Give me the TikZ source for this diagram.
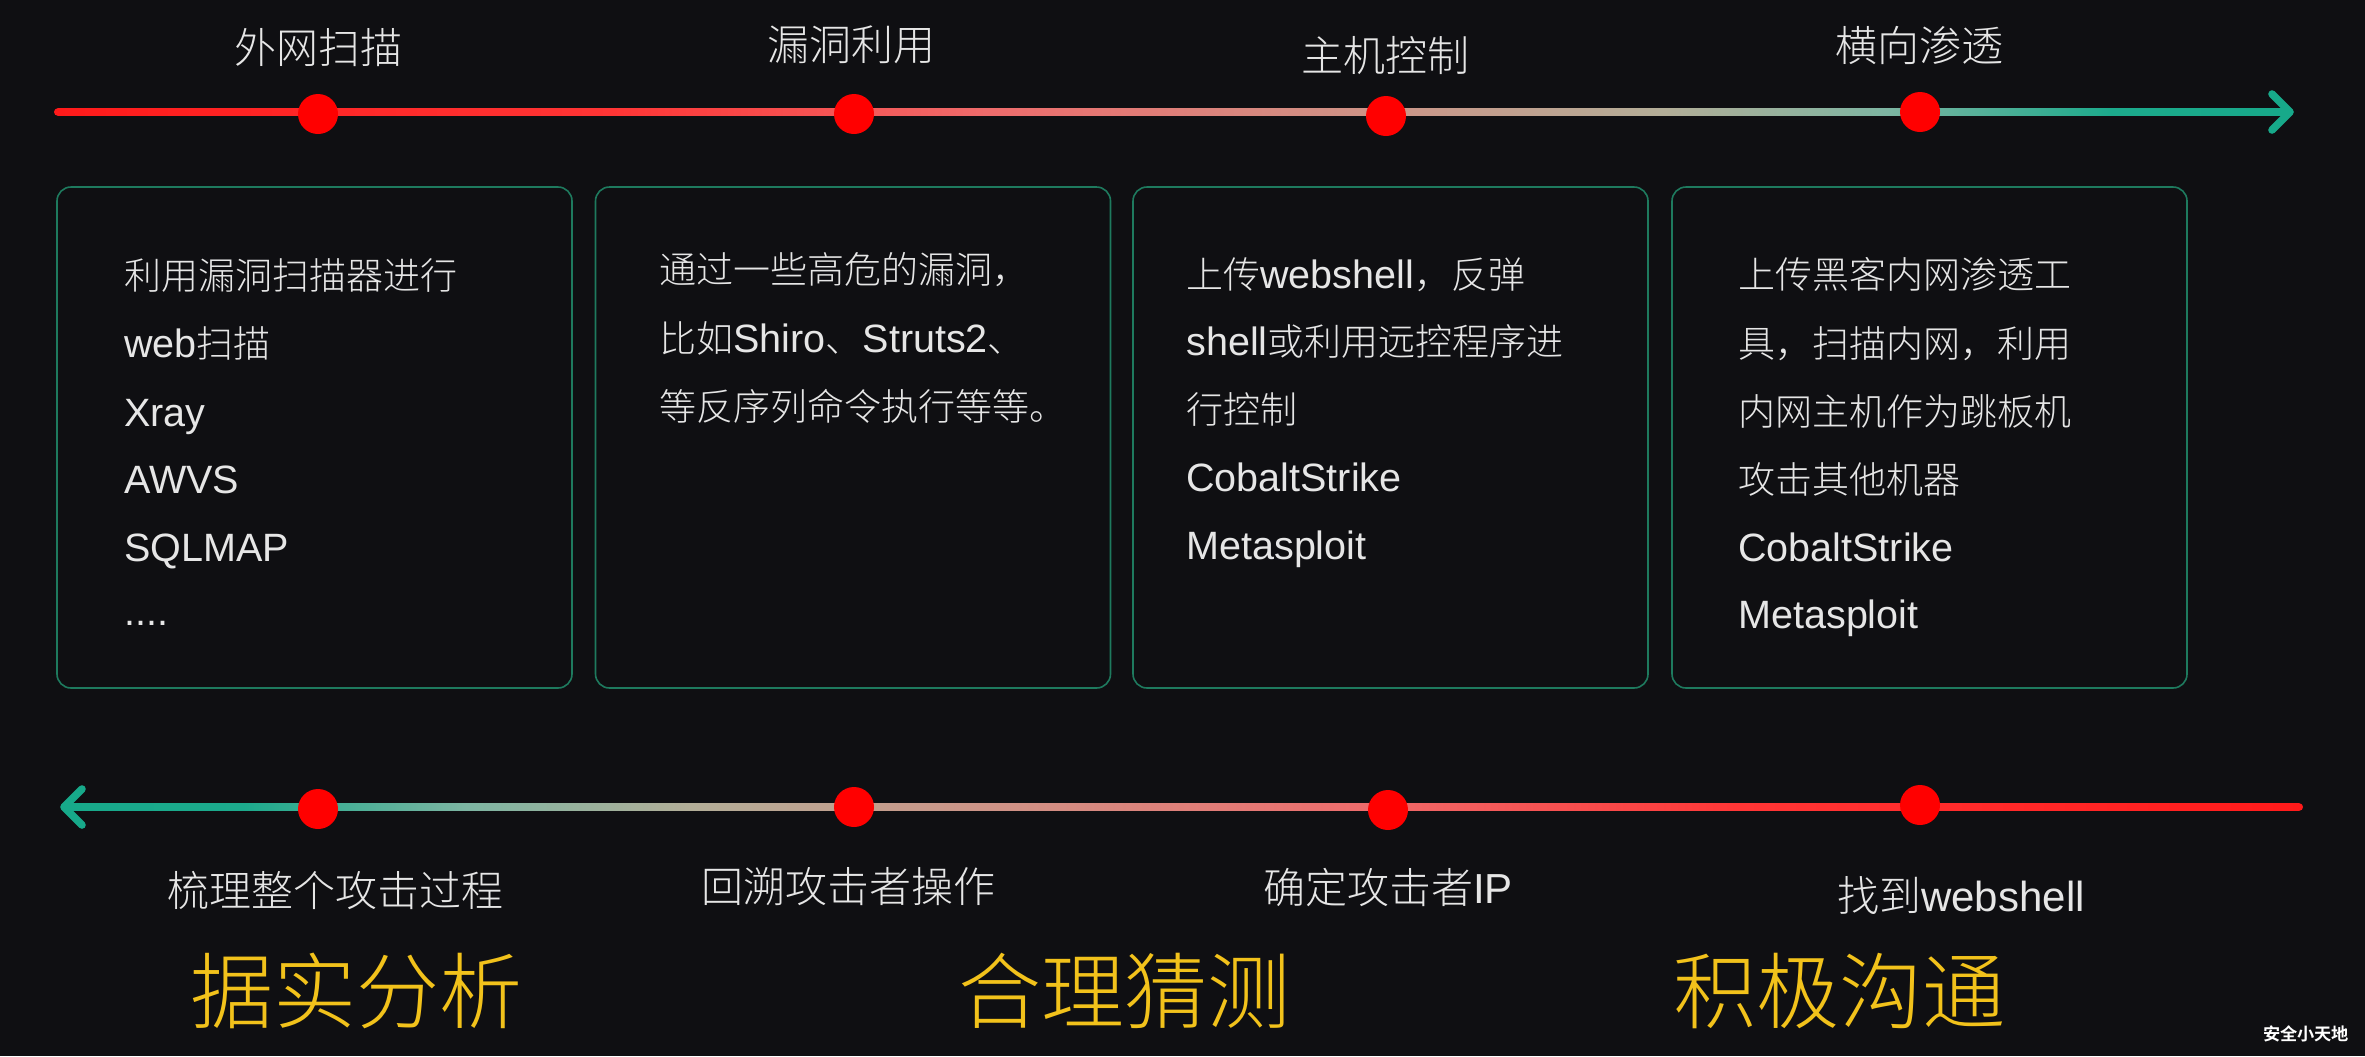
\documentclass[tikz,border=0pt]{standalone}
\usepackage{fontspec}
\setmainfont{Noto Sans CJK SC Light}
\newfontfamily\lat{Liberation Sans}
\newfontfamily\latb{Liberation Sans}[Scale=1.068]
\usetikzlibrary{calc}
\definecolor{bg}{HTML}{0F0F12}
\definecolor{txtc}{HTML}{E6E6E6}
\definecolor{boxc}{HTML}{1E7A5E}
\definecolor{dotc}{HTML}{FF0000}
\definecolor{yel}{HTML}{F2C21B}
\definecolor{tealc}{HTML}{17A98A}
\definecolor{g0}{HTML}{FF1A1A}
\definecolor{g1}{HTML}{FF3535}
\definecolor{g2}{HTML}{EE6C6C}
\definecolor{g3}{HTML}{CF9286}
\definecolor{g4}{HTML}{B3AE98}
\definecolor{g5}{HTML}{7DB5A2}
\definecolor{g6}{HTML}{1CAA8C}
\definecolor{g7}{HTML}{17A98A}
\pgfdeclarehorizontalshading{topgrad}{100bp}{color(0bp)=(g0); color(25bp)=(g0); color(37.5bp)=(g1); color(46bp)=(g2); color(54bp)=(g3); color(61bp)=(g4); color(66bp)=(g5); color(71bp)=(g6); color(75bp)=(g7); color(100bp)=(g7)}
\pgfdeclarehorizontalshading{botgrad}{100bp}{color(0bp)=(g7); color(25bp)=(g7); color(29bp)=(g6); color(34bp)=(g5); color(39bp)=(g4); color(46bp)=(g3); color(54bp)=(g2); color(62.5bp)=(g1); color(75bp)=(g0); color(100bp)=(g0)}
\tikzset{
  dot/.style={circle, fill=dotc, minimum size=20pt, inner sep=0pt},
  lbl/.style={text=txtc, font=\fontsize{21pt}{25pt}\selectfont, inner sep=0pt},
  bline/.style={text=txtc, font=\fontsize{18.5pt}{22pt}\selectfont, inner sep=0pt, anchor=west, text height=0.88em, text depth=0.12em},
  card/.style={draw=boxc, line width=0.8pt, rounded corners=7pt, minimum width=257.5pt, minimum height=250.5pt, inner sep=0pt},
  big/.style={text=yel, font=\fontsize{41.5pt}{48pt}\selectfont, inner sep=0pt},
  bar/.style={line width=3.8pt, line cap=round, line join=round, draw=tealc}
}
\begin{document}
\begin{tikzpicture}[x=0.5pt,y=-0.5pt]
\fill[bg] (0,0) rectangle (2365,1056);
\useasboundingbox (0,0) rectangle (2365,1056);
% top timeline
\coordinate (ts) at (54,112);
\coordinate (te) at (2290,112);
\shade[shading=topgrad, rounded corners=1.9pt] ($(ts)+(0,-3.8)$) rectangle ($(te)+(0,3.8)$);
\draw[bar] ($(te)+(-18,-18)$) -- (te) -- ($(te)+(-18,18)$);
\node[dot] (t1) at (318,114) {};
\node[dot] (t2) at (854,114) {};
\node[dot] (t3) at (1386,116) {};
\node[dot] (t4) at (1920,112) {};
\node[lbl] (l1) at (318,48) {外网扫描};
\node[lbl] (l2) at (851,45) {漏洞利用};
\node[lbl] (l3) at (1385,56) {主机控制};
\node[lbl] (l4) at (1919,45) {横向渗透};
% cards
\node[card] (c1) at (314.5,437.5) {};
\node[card] (c2) at (853,437.5) {};
\node[card] (c3) at (1390.5,437.5) {};
\node[card] (c4) at (1929.5,437.5) {};
% card 1 text
\node[bline] (a1) at (124,282) {利用漏洞扫描器进行};
\node[bline] (a2) at (124,350) {{\latb web}扫描};
\node[bline] (a3) at (124,419) {\latb Xray};
\node[bline] (a4) at (124,486) {\latb AWVS};
\node[bline] (a5) at (124,554) {\latb SQLMAP};
\node[bline] (a6) at (124,618) {\latb ....};
% card 2 text
\node[bline] (b1) at (659,276) {通过一些高危的漏洞，};
\node[bline] (b2) at (659,345) {比如{\latb Shiro}、{\latb Struts2}、};
\node[bline] (b3) at (659,413) {等反序列命令执行等等。};
% card 3 text
\node[bline] (e1) at (1186,281) {上传{\latb webshell}，反弹};
\node[bline] (e2) at (1186,348) {{\latb shell}或利用远控程序进};
\node[bline] (e3) at (1186,416) {行控制};
\node[bline] (e4) at (1186,484) {\latb CobaltStrike};
\node[bline] (e5) at (1186,552) {\latb Metasploit};
% card 4 text
\node[bline] (f1) at (1738,281) {上传黑客内网渗透工};
\node[bline] (f2) at (1738,350) {具，扫描内网，利用};
\node[bline] (f3) at (1738,418) {内网主机作为跳板机};
\node[bline] (f4) at (1738,486) {攻击其他机器};
\node[bline] (f5) at (1738,554) {\latb CobaltStrike};
\node[bline] (f6) at (1738,621) {\latb Metasploit};
% bottom timeline
\coordinate (bs) at (2303,807);
\coordinate (be) at (64,807);
\shade[shading=botgrad, rounded corners=1.9pt] ($(be)+(0,-3.8)$) rectangle ($(bs)+(0,3.8)$);
\draw[bar] ($(be)+(18,-18)$) -- (be) -- ($(be)+(18,18)$);
\node[dot] (u1) at (318,809) {};
\node[dot] (u2) at (854,807) {};
\node[dot] (u3) at (1388,810) {};
\node[dot] (u4) at (1920,805) {};
\node[lbl] (m1) at (335,890) {梳理整个攻击过程};
\node[lbl] (m2) at (848,887) {回溯攻击者操作};
\node[lbl] (m3) at (1388,887) {确定攻击者{\lat IP}};
\node[lbl] (m4) at (1961,896) {找到{\lat webshell}};
% big yellow words
\node[big] (y1) at (356,991) {据实分析};
\node[big] (y2) at (1124,991) {合理猜测};
\node[big] (y3) at (1839,991) {积极沟通};
% watermark
\node[text=white, font=\fontspec{Noto Sans CJK SC Bold}\fontsize{8.6pt}{10pt}\selectfont, inner sep=0pt] (wm) at (2306,1034) {安全小天地};
\end{tikzpicture}
\end{document}
